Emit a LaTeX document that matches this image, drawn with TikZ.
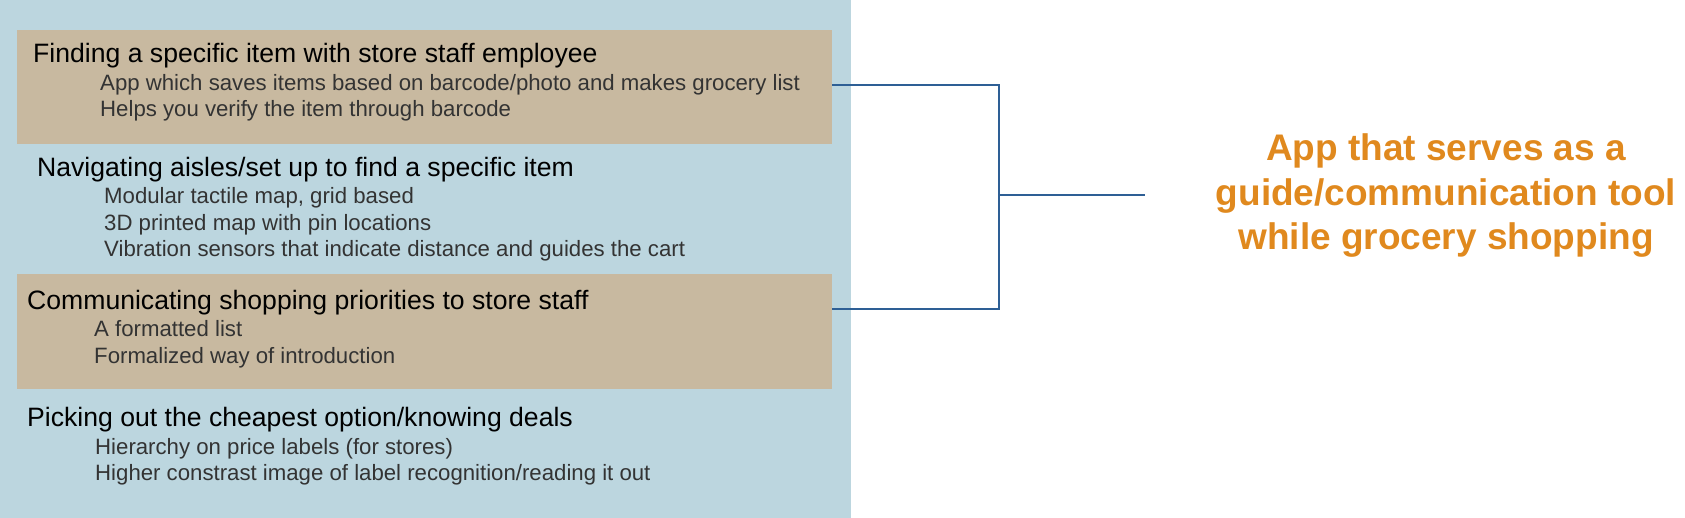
\documentclass[tikz,border=0pt]{standalone}
\usepackage{fontspec}
\setmainfont{Liberation Sans}
\definecolor{panelblue}{HTML}{BCD6DF}
\definecolor{bandtan}{HTML}{C8B9A0}
\definecolor{linkblue}{HTML}{2E5F95}
\definecolor{goalorange}{HTML}{E0891E}
\definecolor{itemgray}{HTML}{333333}
\begin{document}
\begin{tikzpicture}[x=1pt,y=-1pt,
    tanband/.style={fill=bandtan,minimum width=815pt,minimum height=114pt,inner sep=0pt},
    headtext/.style={anchor=base west,inner sep=0pt,font=\fontsize{26.6}{30}\selectfont},
    itemtext/.style={anchor=base west,inner sep=0pt,text=itemgray,font=\fontsize{22.2}{26}\selectfont},
    link/.style={draw=linkblue,line width=1.3pt}]
  \useasboundingbox (0,0) rectangle (1685,518);
  \fill[panelblue] (0,0) rectangle (851,518);
  \node[tanband] (band1) at (424.5,87) {};
  \node[tanband] (band2) at (424.5,331.5) {};
  \node[headtext] (find) at (33,63) {Finding a specific item with store staff employee};
  \node[itemtext] (find1) at (100,91) {App which saves items based on barcode/photo and makes grocery list};
  \node[itemtext] (find2) at (100,117) {Helps you verify the item through barcode};
  \node[headtext] (nav) at (37,177) {Navigating aisles/set up to find a specific item};
  \node[itemtext] (nav1) at (104,204) {Modular tactile map, grid based};
  \node[itemtext] (nav2) at (104,231) {3D printed map with pin locations};
  \node[itemtext] (nav3) at (104,257) {Vibration sensors that indicate distance and guides the cart};
  \node[headtext] (comm) at (27,309) {Communicating shopping priorities to store staff};
  \node[itemtext] (comm1) at (94,336) {A formatted list};
  \node[itemtext] (comm2) at (94,363) {Formalized way of introduction};
  \node[headtext] (deal) at (27,426) {Picking out the cheapest option/knowing deals};
  \node[itemtext] (deal1) at (95,454) {Hierarchy on price labels (for stores)};
  \node[itemtext] (deal2) at (95,480) {Higher constrast image of label recognition/reading it out};
  \node[align=center,inner sep=0pt,text=goalorange,font=\fontsize{37}{44.5}\selectfont\bfseries] (goal) at (1446,196)
    {App that serves as a\\guide/communication tool\\while grocery shopping};
  \coordinate (from1) at (band1.east |- 0,85);
  \coordinate (from2) at (band2.east |- comm.base);
  \coordinate (joint) at (999,195);
  \coordinate (tip) at (1145,195);
  \draw[link] (from1) -| (joint) |- (from2);
  \draw[link] (joint) -- (tip);
\end{tikzpicture}
\end{document}
